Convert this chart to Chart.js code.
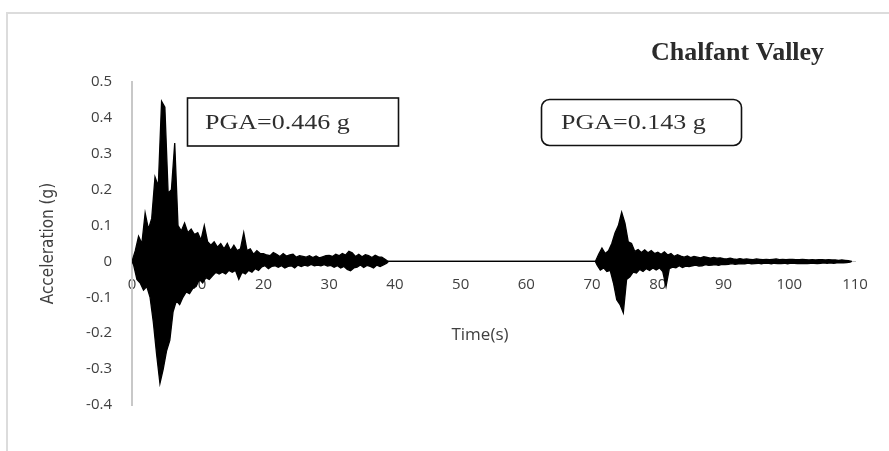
<!DOCTYPE html>
<html>
<head>
<meta charset="utf-8">
<script src="https://cdn.jsdelivr.net/npm/chart.js@4.4.1/dist/chart.umd.min.js"></script>
<style>
  html, body { margin: 0; padding: 0; background: #fff; }
  #wrap { width: 889px; height: 451px; position: relative; }
</style>
</head>
<body>
<div id="wrap"><canvas id="accChart"></canvas></div>
<script>
// Chalfant Valley record (g), one sample every 0.25 s
const sampleStep = 0.25;

const mainShockStart = 0;
const mainShockAcc = [
    0, -0.01, 0.03, -0.05, 0.07, -0.06, 0.05, -0.08,
    0.135, -0.07, 0.09, -0.1, 0.12, -0.17, 0.235, -0.26,
    0.21, -0.34, 0.446, -0.3, 0.43, -0.25, 0.19, -0.22,
    0.2, -0.14, 0.33, -0.11, 0.1, -0.12, 0.085, -0.1,
    0.107, -0.085, 0.08, -0.09, 0.09, -0.075, 0.075, -0.07,
    0.08, -0.05, 0.06, -0.06, 0.1, -0.045, 0.055, -0.05,
    0.045, -0.04, 0.055, -0.03, 0.04, -0.035, 0.05, -0.03,
    0.035, -0.035, 0.05, -0.025, 0.03, -0.03, 0.045, -0.025,
    0.03, -0.05, 0.035, -0.03, 0.08, -0.035, 0.03, -0.025,
    0.035, -0.03, 0.02, -0.02, 0.03, -0.025, 0.022, -0.015,
    0.022, -0.012, 0.018, -0.02, 0.016, -0.014, 0.025, -0.012,
    0.02, -0.016, 0.014, -0.012, 0.022, -0.018, 0.015, -0.014,
    0.018, -0.012, 0.02, -0.018, 0.012, -0.01, 0.016, -0.014,
    0.014, -0.01, 0.012, -0.013, 0.016, -0.008, 0.011, -0.012,
    0.015, -0.01, 0.01, -0.012, 0.013, -0.009, 0.016, -0.013,
    0.017, -0.011, 0.014, -0.016, 0.02, -0.012, 0.016, -0.018,
    0.022, -0.014, 0.018, -0.022, 0.028, -0.026, 0.024, -0.018,
    0.014, -0.016, 0.02, -0.01, 0.013, -0.017, 0.019, -0.011,
    0.016, -0.014, 0.011, -0.018, 0.017, -0.01, 0.013, -0.014,
    0.012, -0.01, 0.006, -0.005, 0
];

const aftershockStart = 70.5;
const aftershockAcc = [
    0, -0.01, 0.02, -0.024, 0.037, -0.018, 0.022, -0.028,
    0.03, -0.025, 0.05, -0.06, 0.08, -0.107, 0.1, -0.12,
    0.137, -0.143, 0.107, -0.05, 0.055, -0.043, 0.05, -0.03,
    0.028, -0.032, 0.033, -0.022, 0.025, -0.028, 0.032, -0.02,
    0.024, -0.025, 0.03, -0.018, 0.022, -0.024, 0.026, -0.018,
    0.02, -0.028, 0.027, -0.07, 0.018, -0.02, 0.022, -0.016,
    0.014, -0.018, 0.019, -0.012, 0.015, -0.017, 0.012, -0.013,
    0.015, -0.014, 0.011, -0.012, 0.014, -0.01, 0.012, -0.013,
    0.01, -0.012, 0.013, -0.009, 0.011, -0.011, 0.009, -0.01,
    0.011, -0.009, 0.009, -0.011, 0.01, -0.008, 0.008, -0.009,
    0.007, -0.008, 0.009, -0.006, 0.007, -0.008, 0.006, -0.007,
    0.008, -0.006, 0.006, -0.007, 0.007, -0.005, 0.006, -0.007,
    0.005, -0.006, 0.007, -0.005, 0.006, -0.007, 0.005, -0.005,
    0.006, -0.005, 0.005, -0.007, 0.006, -0.005, 0.007, -0.006,
    0.005, -0.006, 0.006, -0.005, 0.005, -0.007, 0.006, -0.005,
    0.006, -0.005, 0.005, -0.006, 0.005, -0.005, 0.006, -0.006,
    0.005, -0.006, 0.004, -0.005, 0.005, -0.005, 0.004, -0.006,
    0.005, -0.005, 0.005, -0.004, 0.004, -0.005, 0.005, -0.004,
    0.004, -0.005, 0.004, -0.004, 0.003, -0.004, 0.004, -0.004,
    0.003, -0.003, 0.002, -0.002, 0
];

const xTicks = [0, 10, 20, 30, 40, 50, 60, 70, 80, 90, 100, 110];
const yTicks = [0.5, 0.4, 0.3, 0.2, 0.1, 0, -0.1, -0.2, -0.3, -0.4];

const chartTitle = 'Chalfant Valley';
const xTitle = 'Time(s)';
const pgaLabels = ['PGA=0.446 g', 'PGA=0.143 g'];

const toPoints = (start, values) => values.map((v, i) => ({ x: start + i * sampleStep, y: v }));
const records = [...toPoints(mainShockStart, mainShockAcc), ...toPoints(aftershockStart, aftershockAcc)];

// the trace is so dense that it prints as a solid band between its
// positive and negative swings, so draw those two and fill between
const upperSwings = records.filter(p => p.y >= 0);
const lowerSwings = records.filter(p => p.y <= 0);

// frame, title, x title and the two PGA boxes
const annotations = {
    id: 'annotations',
    beforeDraw(chart) {
        const { ctx } = chart;
        ctx.save();
        ctx.strokeStyle = '#dcdcdc';
        ctx.lineWidth = 2;
        ctx.beginPath();
        ctx.moveTo(7, 451);
        ctx.lineTo(7, 13);
        ctx.lineTo(889, 13);
        ctx.stroke();
        ctx.restore();
    },
    afterDraw(chart) {
        const { ctx } = chart;
        ctx.save();
        ctx.textAlign = 'left';
        ctx.textBaseline = 'middle';

        ctx.fillStyle = '#2b2b2b';
        ctx.font = 'bold 26px "Liberation Serif"';
        ctx.fillText(chartTitle, 651, 53);

        ctx.fillStyle = '#404040';
        ctx.font = '17px "Open Sans"';
        ctx.textAlign = 'center';
        ctx.fillText(xTitle, 480, 335);
        ctx.textAlign = 'left';

        ctx.strokeStyle = '#111';
        ctx.lineWidth = 1.6;
        ctx.strokeRect(187.5, 98, 211, 48);

        ctx.beginPath();
        ctx.roundRect(541.5, 99.5, 200, 46, 8);
        ctx.stroke();

        // the PGA labels are set wide in the picture
        ctx.fillStyle = '#2e2e2e';
        ctx.font = '20px "Liberation Serif"';
        [[205, pgaLabels[0]], [561, pgaLabels[1]]].forEach(([x, text]) => {
            ctx.save();
            ctx.translate(x, 124);
            ctx.scale(1.3, 1);
            ctx.fillText(text, 0, 0);
            ctx.restore();
        });
        ctx.restore();
    }
};

const tickFont = { family: 'Open Sans', size: 15 };

new Chart(document.getElementById('accChart'), {
    type: 'line',
    data: {
        datasets: [{
            label: 'Acceleration (+)',
            data: upperSwings,
            borderColor: '#000',
            backgroundColor: '#000',
            borderWidth: 1.3,
            pointRadius: 0,
            tension: 0,
            fill: '+1'
        }, {
            label: 'Acceleration (-)',
            data: lowerSwings,
            borderColor: '#000',
            backgroundColor: '#000',
            borderWidth: 1.3,
            pointRadius: 0,
            tension: 0,
            fill: false
        }]
    },
    options: {
        responsive: true,
        maintainAspectRatio: false,
        animation: false,
        parsing: false,
        layout: { padding: { left: 30, top: 82, right: 34, bottom: 46 } },
        plugins: {
            legend: { display: false },
            tooltip: { enabled: false }
        },
        scales: {
            x: {
                type: 'linear',
                position: { y: 0 },
                min: 0,
                max: 110,
                afterBuildTicks: scale => { scale.ticks = xTicks.map(v => ({ value: v })); },
                ticks: { font: tickFont, color: '#404040', padding: 14, maxRotation: 0 },
                grid: { display: false, drawTicks: false },
                border: { display: true, color: '#bfbfbf', width: 1 }
            },
            y: {
                min: -0.4,
                max: 0.5,
                afterBuildTicks: scale => { scale.ticks = yTicks.map(v => ({ value: v })); },
                afterFit: scale => { scale.width = 102; },
                ticks: { font: tickFont, color: '#404040', padding: 20 },
                grid: { display: false, drawTicks: false },
                border: { display: true, color: '#c8c8c8', width: 2 },
                title: {
                    display: true,
                    text: 'Acceleration (g)',
                    font: { family: 'DejaVu Sans Condensed', size: 17 },
                    color: '#404040',
                    padding: { top: 8, bottom: 0 }
                }
            }
        }
    },
    plugins: [annotations]
});
</script>
</body>
</html>
